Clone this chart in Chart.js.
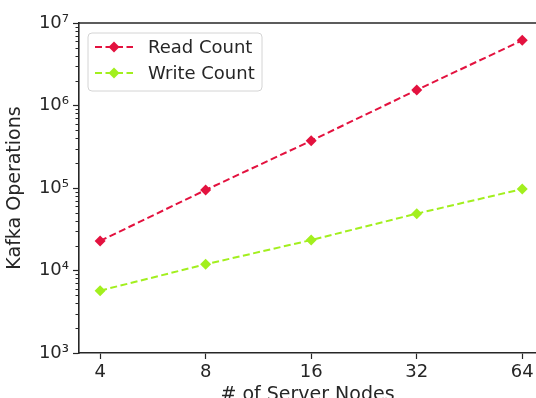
<!DOCTYPE html>
<html>
<head>
<meta charset="utf-8">
<script src="https://cdn.jsdelivr.net/npm/chart.js@4.4.0/dist/chart.umd.min.js"></script>
<style>
  html, body { margin: 0; padding: 0; background: #fff; overflow: hidden; }
  #wrap { width: 536px; height: 398px; overflow: hidden; }
  #box { width: 536px; height: 406px; position: relative; }
</style>
</head>
<body>
<div id="wrap"><div id="box"><canvas id="chart"></canvas></div></div>
<script>
const nodeLabels = ['4', '8', '16', '32', '64'];
const readCount = [22800, 94600, 374000, 1540000, 6170000];
const writeCount = [5700, 11900, 23400, 48900, 97200];
const yTickValues = [1e3, 1e4, 1e5, 1e6, 1e7];
const yTickLabels = ['10³', '10⁴', '10⁵', '10⁶', '10⁷'];

const readColor = '#e3123f';
const writeColor = '#a2ef1e';
const axisColor = '#262626';
const font = 'DejaVu Sans';

const toPoints = arr => arr.map((v, i) => ({ x: i, y: v }));

// top spine + log minor ticks, drawn from the scales
const framePlugin = {
  id: 'frame',
  afterDraw(chart) {
    const { ctx, chartArea } = chart;
    const y = chart.scales.y;
    ctx.save();
    ctx.strokeStyle = axisColor;
    ctx.lineWidth = 1.6;
    ctx.beginPath();
    ctx.moveTo(chartArea.left, chartArea.top);
    ctx.lineTo(chartArea.right, chartArea.top);
    ctx.stroke();
    ctx.lineWidth = 1;
    for (let d = 3; d < 7; d++) {
      for (let m = 2; m < 10; m++) {
        const py = Math.round(y.getPixelForValue(m * Math.pow(10, d))) + 0.5;
        ctx.beginPath();
        ctx.moveTo(chartArea.left - 3.5, py);
        ctx.lineTo(chartArea.left, py);
        ctx.stroke();
      }
    }
    ctx.restore();
  }
};

// matplotlib style legend box in the upper left
const legendPlugin = {
  id: 'boxLegend',
  afterDraw(chart) {
    const { ctx, chartArea } = chart;
    const x0 = chartArea.left + 9, y0 = chartArea.top + 10;
    const w = 174, h = 58, r = 4;
    ctx.save();
    ctx.fillStyle = 'rgba(255,255,255,0.85)';
    ctx.strokeStyle = '#d4d4d4';
    ctx.lineWidth = 1;
    ctx.beginPath();
    ctx.roundRect(x0, y0, w, h, r);
    ctx.fill();
    ctx.stroke();
    chart.data.datasets.forEach((ds, i) => {
      const cy = y0 + 14 + i * 26;
      ctx.strokeStyle = ds.borderColor;
      ctx.lineWidth = 2;
      ctx.setLineDash([7, 3.5]);
      ctx.beginPath();
      ctx.moveTo(x0 + 7, cy);
      ctx.lineTo(x0 + 45, cy);
      ctx.stroke();
      ctx.setLineDash([]);
      ctx.fillStyle = ds.borderColor;
      ctx.beginPath();
      ctx.moveTo(x0 + 26, cy - 5.5);
      ctx.lineTo(x0 + 31.5, cy);
      ctx.lineTo(x0 + 26, cy + 5.5);
      ctx.lineTo(x0 + 20.5, cy);
      ctx.closePath();
      ctx.fill();
      ctx.fillStyle = axisColor;
      ctx.font = '18px "' + font + '"';
      ctx.textBaseline = 'middle';
      ctx.fillText(ds.label, x0 + 60, cy + 1);
    });
    ctx.restore();
  }
};

new Chart(document.getElementById('chart'), {
  type: 'line',
  data: {
    datasets: [
      {
        label: 'Read Count',
        data: toPoints(readCount),
        borderColor: readColor,
        backgroundColor: readColor,
        borderWidth: 2,
        borderDash: [7, 3.5],
        pointStyle: 'rectRot',
        pointRadius: 5.5,
        pointBorderWidth: 0,
        tension: 0
      },
      {
        label: 'Write Count',
        data: toPoints(writeCount),
        borderColor: writeColor,
        backgroundColor: writeColor,
        borderWidth: 2,
        borderDash: [7, 3.5],
        pointStyle: 'rectRot',
        pointRadius: 5.5,
        pointBorderWidth: 0,
        tension: 0
      }
    ]
  },
  options: {
    responsive: true,
    maintainAspectRatio: false,
    animation: false,
    devicePixelRatio: 1,
    layout: { autoPadding: false, padding: { left: 4, top: 23, right: 0, bottom: 0 } },
    plugins: { legend: { display: false }, tooltip: { enabled: false } },
    scales: {
      x: {
        type: 'linear',
        min: -0.2,
        max: 4.13,
        afterBuildTicks: s => { s.ticks = nodeLabels.map((_, i) => ({ value: i })); },
        afterFit: s => { s.height = 53; s.paddingRight = 0; s.paddingLeft = 0; },
        ticks: {
          callback: v => nodeLabels[v],
          font: { family: font, size: 18 },
          color: axisColor,
          padding: 3,
          maxRotation: 0
        },
        grid: { display: true, drawOnChartArea: false, drawTicks: true, tickLength: 6, tickColor: axisColor, tickWidth: 1.2 },
        border: { display: true, color: axisColor, width: 1.6 },
        title: {
          display: true,
          text: '# of Server Nodes',
          font: { family: font, size: 19 },
          color: axisColor,
          padding: { top: 0, bottom: 0 }
        }
      },
      y: {
        type: 'logarithmic',
        min: 1e3,
        max: 1e7,
        afterBuildTicks: s => { s.ticks = yTickValues.map(v => ({ value: v })); },
        afterFit: s => { s.width = 75; },
        ticks: {
          callback: v => yTickLabels[yTickValues.indexOf(v)],
          font: { family: font, size: 18 },
          color: axisColor,
          padding: 4
        },
        grid: { display: true, drawOnChartArea: false, drawTicks: true, tickLength: 6, tickColor: axisColor, tickWidth: 1.2 },
        border: { display: true, color: axisColor, width: 1.6 },
        title: {
          display: true,
          text: 'Kafka Operations',
          font: { family: font, size: 19 },
          color: axisColor,
          padding: { top: 0, bottom: 4 }
        }
      }
    }
  },
  plugins: [framePlugin, legendPlugin]
});
</script>
</body>
</html>
